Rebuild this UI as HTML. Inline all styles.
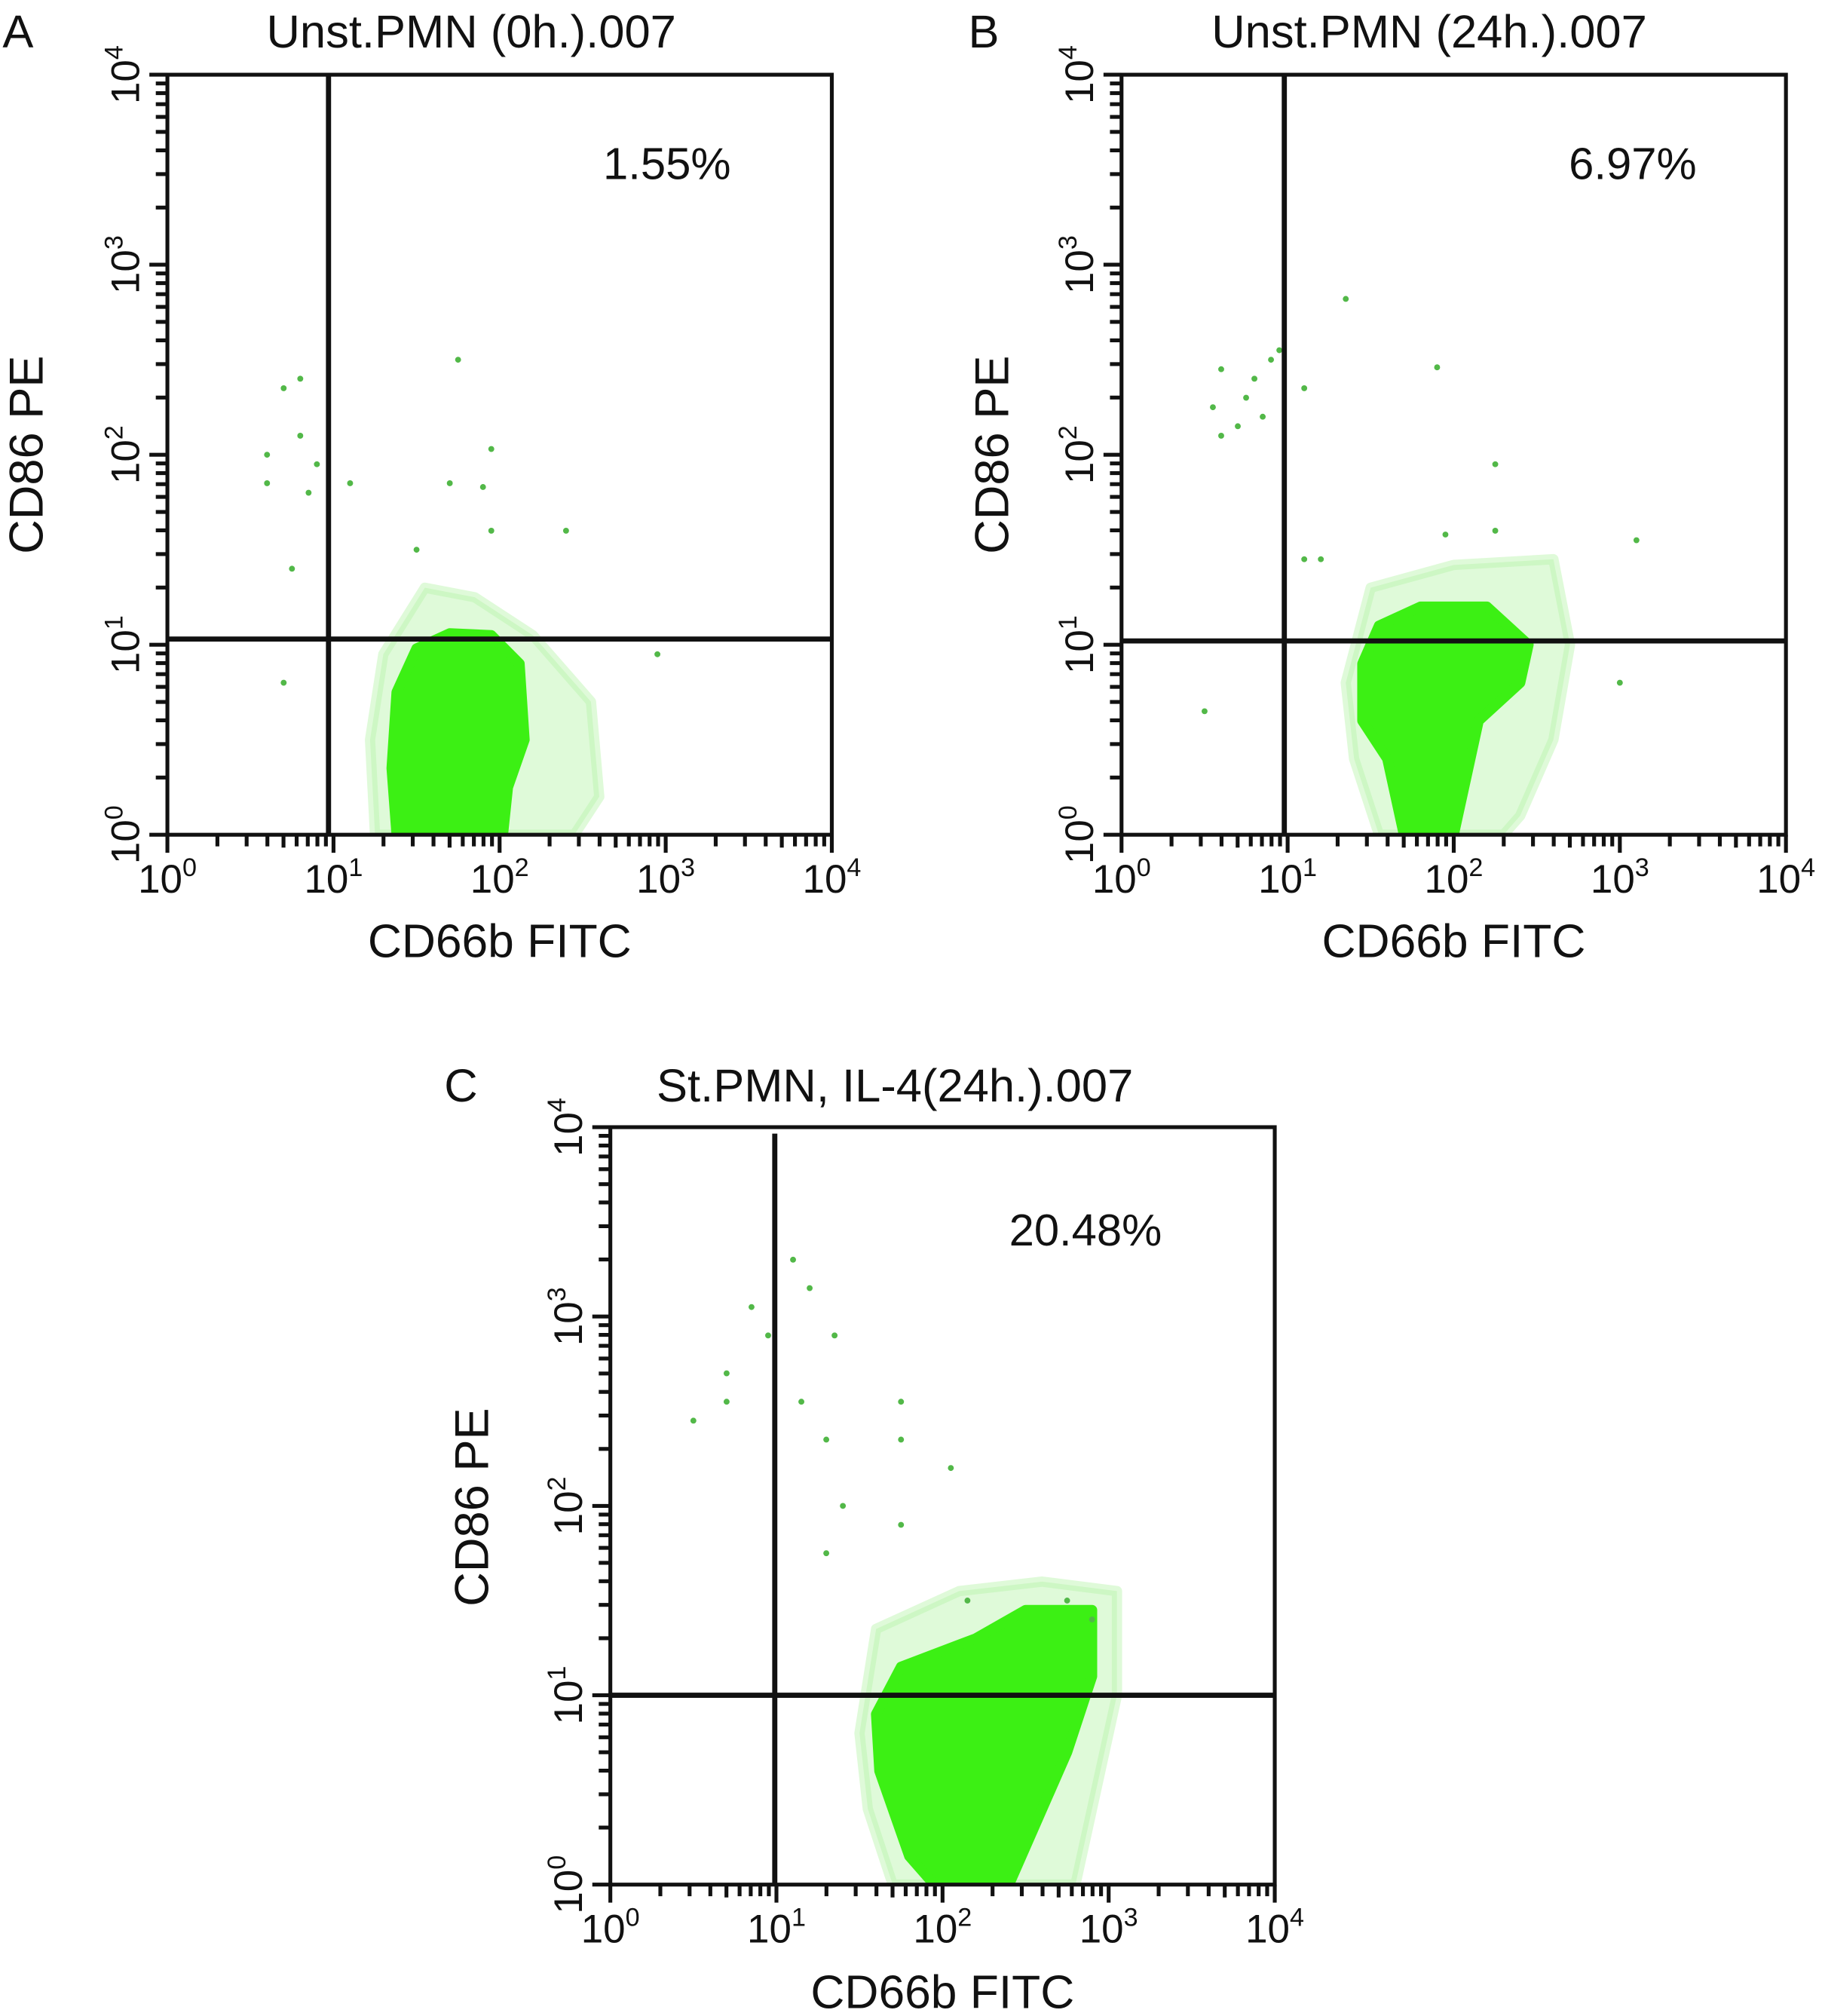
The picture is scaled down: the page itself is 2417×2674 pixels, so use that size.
<!DOCTYPE html>
<html><head><meta charset="utf-8"><style>
html,body{margin:0;padding:0;background:#fff}
svg{display:block}
text{font-family:"Liberation Sans",Arial,sans-serif;fill:#111}
</style></head><body>
<svg id="fig" xmlns="http://www.w3.org/2000/svg" width="2417" height="2674" viewBox="0 0 1415 1565" preserveAspectRatio="none"></svg>
<script>
// ---- data ----
const panelLetters = ["A","B","C"];
const panelTitles = ["Unst.PMN (0h.).007","Unst.PMN (24h.).007","St.PMN, IL-4(24h.).007"];
const percentages = ["1.55%","6.97%","20.48%"];
const gateX = [0.97, 0.98, 0.99];   // log10 CD66b gate
const gateY = [1.03, 1.02, 1.0];    // log10 CD86 gate
const tickExps = [0,1,2,3,4];
const coreA = [[1.38,0],[1.35,0.35],[1.38,0.75],[1.5,0.98],[1.7,1.06],[1.95,1.05],[2.12,0.9],[2.15,0.5],[2.05,0.25],[2.02,0]];
const haloA = [[1.25,0],[1.22,0.5],[1.3,0.95],[1.55,1.3],[1.85,1.25],[2.2,1.05],[2.55,0.7],[2.6,0.2],[2.45,0]];
const coreB = [[1.45,0.9],[1.55,1.1],[1.8,1.2],[2.2,1.2],[2.45,1.0],[2.4,0.8],[2.15,0.6],[2.05,0.2],[2.0,0],[1.7,0],[1.6,0.4],[1.45,0.6]];
const haloB = [[1.35,0.8],[1.5,1.3],[2.0,1.42],[2.6,1.45],[2.7,1.0],[2.6,0.5],[2.4,0.1],[2.3,0],[1.55,0],[1.4,0.4]];
const coreC = [[1.6,0.9],[1.75,1.15],[2.2,1.3],[2.5,1.45],[2.9,1.45],[2.9,1.1],[2.75,0.7],[2.55,0.3],[2.4,0],[1.95,0],[1.8,0.15],[1.62,0.6]];
const haloC = [[1.5,0.8],[1.6,1.35],[2.1,1.55],[2.6,1.6],[3.05,1.55],[3.05,1.0],[2.9,0.4],[2.8,0],[1.7,0],[1.55,0.4]];
const outA = [[0.7,2.35],[0.8,2.4],[0.6,2.0],[0.8,2.1],[0.9,1.95],[0.6,1.85],[0.85,1.8],[0.75,1.4],[1.1,1.85],[1.75,2.5],[1.95,2.03],[1.7,1.85],[1.9,1.83],[2.4,1.6],[1.5,1.5],[1.95,1.6],[0.7,0.8],[2.95,0.95]];
const outB = [[0.55,2.25],[0.6,2.1],[0.7,2.15],[0.75,2.3],[0.8,2.4],[0.6,2.45],[0.9,2.5],[0.95,2.55],[0.85,2.2],[1.1,2.35],[1.35,2.82],[1.9,2.46],[2.25,1.95],[2.25,1.6],[1.95,1.58],[1.1,1.45],[1.2,1.45],[3.1,1.55],[0.5,0.65],[3.0,0.8]];
const outC = [[0.7,2.55],[0.95,2.9],[1.1,3.3],[1.2,3.15],[0.85,3.05],[1.35,2.9],[0.7,2.7],[1.15,2.55],[0.5,2.45],[1.3,2.35],[1.75,2.55],[1.75,2.35],[2.05,2.2],[1.4,2.0],[1.75,1.9],[1.3,1.75],[2.15,1.5],[2.75,1.5],[2.9,1.4]];
const cores=[coreA,coreB,coreC], halos=[haloA,haloB,haloC], outs=[outA,outB,outC];
// layout (viewBox units)
const boxes=[{x0:130,x1:646,y0:58,y1:648,lx:2,ly:25,tx:366,ty:25,px:518,py:127,yl:20,ylc:353,xlY:730,tkY:693},
             {x0:871,x1:1387,y0:58,y1:648,lx:752,ly:25,tx:1110,ty:25,px:1268,py:127,yl:770,ylc:353,xlY:730,tkY:693},
             {x0:474,x1:990,y0:875,y1:1463,lx:345,ly:843,tx:695,ty:843,px:843,py:955,yl:366,ylc:1170,xlY:1546,tkY:1508}];
const NS="http://www.w3.org/2000/svg";
const svg=document.getElementById('fig');
function mk(tag,attrs,parent){const e=document.createElementNS(NS,tag);for(const k in attrs)e.setAttribute(k,attrs[k]);(parent||svg).appendChild(e);return e;}
boxes.forEach((b,i)=>{
  const sx=v=>b.x0+(b.x1-b.x0)*v/4, sy=v=>b.y1-(b.y1-b.y0)*v/4;
  const g=mk('g',{});
  
  
  const cp=mk('clipPath',{id:'cp'+i},g);mk('rect',{x:b.x0,y:b.y0,width:b.x1-b.x0,height:b.y1-b.y0},cp);
  const pts=arr=>arr.map(p=>sx(p[0])+','+sy(p[1])).join(' ');
  const halo=mk('polygon',{points:pts(halos[i]),fill:'#b8f5aa','fill-opacity':0.45,'stroke':'#b8f5aa','stroke-opacity':0.45,'stroke-width':8,'stroke-linejoin':'round','clip-path':'url(#cp'+i+')'},g);
  
  
  const core=mk('polygon',{points:pts(cores[i]),fill:'#3cf014','stroke':'#3cf014','stroke-width':8,'stroke-linejoin':'round','clip-path':'url(#cp'+i+')'},g);
  
  
  outs[i].forEach(p=>{const c=mk('circle',{cx:sx(p[0]),cy:sy(p[1]),r:2.3,fill:'#52b848'},g);
    
    });
  // gates
  const gv=mk('line',{x1:sx(gateX[i]),x2:sx(gateX[i]),y1:b.y0+(i==2?5:0),y2:b.y1,stroke:'#111','stroke-width':4},g);
  
  
  const gh=mk('line',{x1:b.x0,x2:b.x1,y1:sy(gateY[i]),y2:sy(gateY[i]),stroke:'#111','stroke-width':4},g);
  
  
  const fr=mk('rect',{x:b.x0,y:b.y0,width:b.x1-b.x0,height:b.y1-b.y0,fill:'none',stroke:'#111','stroke-width':3},g);
  
  
  // ticks
  let d='';
  for(let e=0;e<4;e++)for(let m=1;m<10;m++){const v=e+Math.log10(m);const major=m==1;
    const X=sx(v);d+=`M${X},${b.y1}v${major?14:(m==5?10:9)}`;
    const Y=sy(v);d+=`M${b.x0},${Y}h${major?-14:-9}`;}
  d+=`M${sx(4)},${b.y1}v14M${b.x0},${sy(4)}h-14`;
  const tk=mk('path',{d:d,stroke:'#111','stroke-width':3,fill:'none'},g);
  
  
  tickExps.forEach(e=>{
    const t=mk('text',{x:sx(e),y:b.tkY,'text-anchor':'middle','font-size':31},g);
    
    
    t.innerHTML='10<tspan font-size="20" dy="-13">'+e+'</tspan>';
    const ty=mk('text',{x:0,y:0,'text-anchor':'middle','font-size':31,transform:`translate(${b.x0-22},${sy(e)}) rotate(-90)`},g);
    
    
    ty.innerHTML='10<tspan font-size="20" dy="-13">'+e+'</tspan>';
  });
  const lab=(txt,attrs,name)=>{const t=mk('text',attrs,g);t.textContent=txt;
    
    return t;};
  lab(panelLetters[i],{x:b.lx,y:b.ly+12,'font-size':36},'panel-letter');
  lab(panelTitles[i],{x:b.tx,y:b.ty+12,'font-size':36,'text-anchor':'middle'},'panel-title');
  lab(percentages[i],{x:b.px,y:b.py+12,'font-size':35,'text-anchor':'middle'},'quadrant-percentage');
  lab('CD66b FITC',{x:(b.x0+b.x1)/2,y:b.xlY+13,'font-size':36.5,'text-anchor':'middle'},'x-axis-title');
  lab('CD86 PE',{x:0,y:0,'font-size':37,'text-anchor':'middle',transform:`translate(${b.yl+13},${b.ylc}) rotate(-90)`},'y-axis-title');
});
</script>
</body></html>
